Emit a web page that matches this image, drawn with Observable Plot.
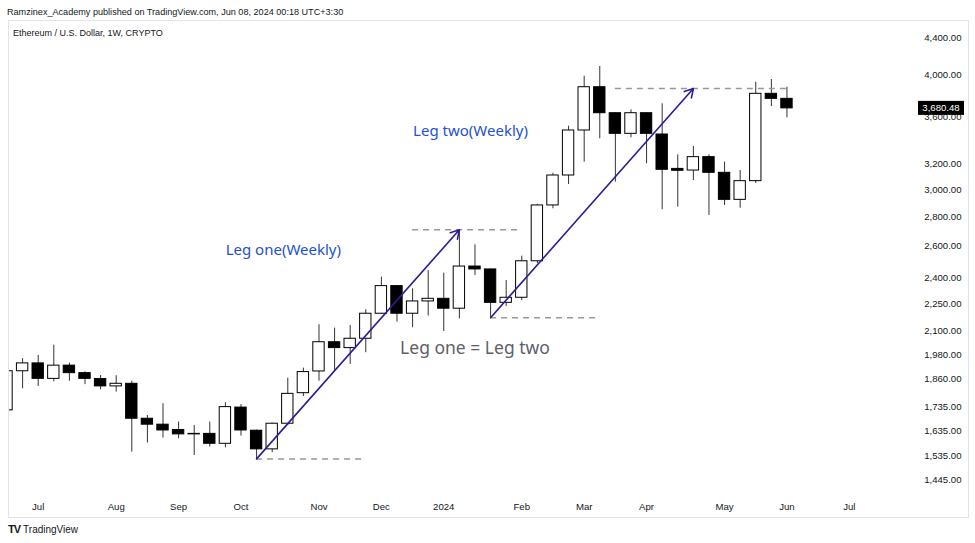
<!DOCTYPE html>
<html><head><meta charset="utf-8">
<script src="https://cdn.jsdelivr.net/npm/d3@7"></script>
<script src="https://cdn.jsdelivr.net/npm/@observablehq/plot@0.6"></script>
<style>
body{margin:0;background:#fff;font-family:"Liberation Sans",Arial,sans-serif;color:#131722}
#page{position:relative;width:975px;height:543px;overflow:hidden;background:#fff}
#hdr{position:absolute;left:7px;top:6.5px;font-size:9.1px;white-space:nowrap}
#sym{position:absolute;left:13px;top:28px;font-size:9px;white-space:nowrap}
#chart{position:absolute;left:0;top:20px}
#box{position:absolute;left:8px;top:20px;width:961px;height:498px;border:1px solid #e0e3eb;box-sizing:border-box;pointer-events:none}
#foot{position:absolute;left:8px;top:523px;font-size:10px;white-space:nowrap}
#foot b{font-size:11px;letter-spacing:-1px;margin-right:3px}
</style></head><body><div id="page">
<div id="hdr">Ramzinex_Academy published on TradingView.com, Jun 08, 2024 00:18 UTC+3:30</div>
<div id="chart"></div>
<div id="sym">Ethereum / U.S. Dollar, 1W, CRYPTO</div>
<div id="box"></div>
<div id="foot"><b>TV</b>TradingView</div>
</div>
<script>
const weeks = ["2023-06-19","2023-06-26","2023-07-03","2023-07-10","2023-07-17","2023-07-24","2023-07-31","2023-08-07","2023-08-14","2023-08-21","2023-08-28","2023-09-04","2023-09-11","2023-09-18","2023-09-25","2023-10-02","2023-10-09","2023-10-16","2023-10-23","2023-10-30","2023-11-06","2023-11-13","2023-11-20","2023-11-27","2023-12-04","2023-12-11","2023-12-18","2023-12-25","2024-01-01","2024-01-08","2024-01-15","2024-01-22","2024-01-29","2024-02-05","2024-02-12","2024-02-19","2024-02-26","2024-03-04","2024-03-11","2024-03-18","2024-03-25","2024-04-01","2024-04-08","2024-04-15","2024-04-22","2024-04-29","2024-05-06","2024-05-13","2024-05-20","2024-05-27","2024-06-03"];
const open  = [1720,1898,1936,1862,1925,1889,1861,1827,1839,1684,1659,1637,1619,1621,1581,1732,1634,1559,1663,1796,1897,2042,2012,2060,2194,2352,2194,2263,2278,2222,2471,2453,2255,2284,2504,2882,3108,3481,3882,3636,3452,3636,3446,3160,3147,3255,3129,2923,3064,3818,3770];
const high  = [1930,1959,1975,2027,1937,1895,1878,1877,1851,1698,1749,1670,1656,1670,1753,1745,1636,1666,1865,1913,2134,2116,2130,2216,2406,2356,2336,2446,2430,2711,2610,2455,2386,2536,2890,3126,3519,3991,4090,3640,3667,3640,3723,3274,3344,3274,3214,3147,3931,3958,3882];
const low   = [1715,1816,1827,1848,1851,1835,1811,1801,1548,1584,1604,1601,1535,1568,1565,1612,1522,1546,1655,1781,1851,1902,1931,1989,2190,2148,2118,2181,2098,2166,2416,2172,2235,2268,2490,2858,3038,3214,3409,3056,3418,3201,2851,2870,3069,2810,2882,2862,3046,3698,3594];
const close = [1898,1936,1862,1925,1889,1862,1827,1839,1684,1659,1635,1619,1621,1581,1734,1635,1559,1663,1793,1894,2042,2012,2060,2194,2352,2194,2263,2278,2222,2471,2453,2255,2284,2504,2882,3108,3481,3882,3636,3452,3636,3452,3153,3145,3255,3129,2923,3064,3818,3770,3680.48];

const yTicks = [1445,1535,1635,1735,1860,1980,2100,2250,2400,2600,2800,3000,3200,3600,4000,4400];
const monthTicks = ["2023-07-03","2023-08-07","2023-09-04","2023-10-02","2023-11-06","2023-12-04","2024-01-01","2024-02-05","2024-03-04","2024-04-01","2024-05-06","2024-06-03","2024-07-01"];
const monthLabels = ["Jul","Aug","Sep","Oct","Nov","Dec","2024","Feb","Mar","Apr","May","Jun","Jul"];

const legFrom = ["2023-10-09","2024-01-22"];
const legFromPrice = [1522,2172];
const legTo = ["2024-01-08","2024-04-22"];
const legToPrice = [2711,3869];

const levelPrice = [1522,2711,2172,3869];
const levelFrom = ["2023-10-09","2023-12-18","2024-01-22","2024-03-18"];
const levelTo = ["2023-11-27","2024-02-05","2024-03-11","2024-06-03"];

const noteText = ["Leg one(Weekly)","Leg two(Weekly)","Leg one = Leg two"];
const noteDate = ["2023-10-21","2024-01-13","2024-01-15"];
const notePrice = [2573,3472,2010];

const DAY = 864e5, WEEK = 7*DAY;
const candles = weeks.map((w,i)=>({date:new Date(w),open:open[i],high:high[i],low:low[i],close:close[i]}));
const ticksX = monthTicks.map((d,i)=>({date:new Date(d),label:monthLabels[i]}));
const legs = legFrom.map((d,i)=>({x1:new Date(d),y1:legFromPrice[i],x2:new Date(legTo[i]),y2:legToPrice[i]}));
const levels = levelPrice.map((p,i)=>({price:p,from:new Date(levelFrom[i]),to:new Date(levelTo[i])}));
const notes = noteText.map((t,i)=>({text:t,date:new Date(noteDate[i]),price:notePrice[i]}));
const last = candles[candles.length-1];
const fmt = d3.format(",.2f");
const anchor = +new Date("2023-07-03");
const FONT = "Liberation Sans, Arial, sans-serif";

const W = 975, H = 498, mL = 9, mR = 60, mT = 17, mB = 39;

const chart = Plot.plot({
  width: W, height: H,
  marginLeft: mL, marginRight: mR, marginTop: mT, marginBottom: mB,
  style: {fontFamily: FONT, background: "transparent", overflow: "visible"},
  x: {type: "utc", domain: [new Date(anchor - 1.84*WEEK), new Date(anchor + 56.24*WEEK)], axis: null},
  y: {type: "log", domain: [1445, 4400], axis: null},
  marks: [
    Plot.ruleX(candles, {x: "date", y1: "low", y2: "high", stroke: "#333", strokeWidth: 1, clip: true}),
    Plot.rect(candles, {x1: d => new Date(+d.date - 2.55*DAY), x2: d => new Date(+d.date + 2.55*DAY), y1: "open", y2: "close",
      fill: d => d.close >= d.open ? "#fff" : "#000", stroke: "#000", strokeWidth: 1, clip: true}),
    Plot.ruleY(levels, {y: "price", x1: "from", x2: "to", stroke: "#9598a1", strokeWidth: 1.5, strokeDasharray: "6,5"}),
    Plot.arrow(legs, {x1: "x1", y1: "y1", x2: "x2", y2: "y2", stroke: "#2c1c96", strokeWidth: 1.6, headLength: 9}),
    Plot.text(notes.slice(0,2), {x: "date", y: "price", text: "text", fill: "#2450d4", fontSize: 15, fontFamily: "Noto Sans, sans-serif"}),
    Plot.text(notes.slice(2), {x: "date", y: "price", text: "text", fill: "#5d606b", fontSize: 17.5, fontFamily: "Noto Sans, sans-serif"}),
    Plot.text(yTicks, {y: d => d, text: d => fmt(d), frameAnchor: "right", textAnchor: "end", dx: 46, fontSize: 9.6, fill: "#131722"}),
    Plot.text(ticksX, {x: "date", text: "label", frameAnchor: "bottom", dy: 30, fontSize: 9.6, fill: "#131722",
      fontWeight: d => d.label === "2024" ? "bold" : "normal"}),
    (index, scales, values, dims) => {
      const g = d3.create("svg:g");
      const y = scales.y(last.close);
      const x0 = dims.width - dims.marginRight + 3;
      g.append("rect").attr("x", x0).attr("y", y - 7).attr("width", 46).attr("height", 14).attr("fill", "#000");
      g.append("text").attr("x", x0 + 23).attr("y", y).attr("dy", "0.35em").attr("text-anchor", "middle")
        .attr("fill", "#fff").attr("font-size", 9.6).attr("font-family", FONT).text(fmt(last.close));
      return g.node();
    }
  ]
});
document.getElementById("chart").appendChild(chart);
</script>
</body></html>
